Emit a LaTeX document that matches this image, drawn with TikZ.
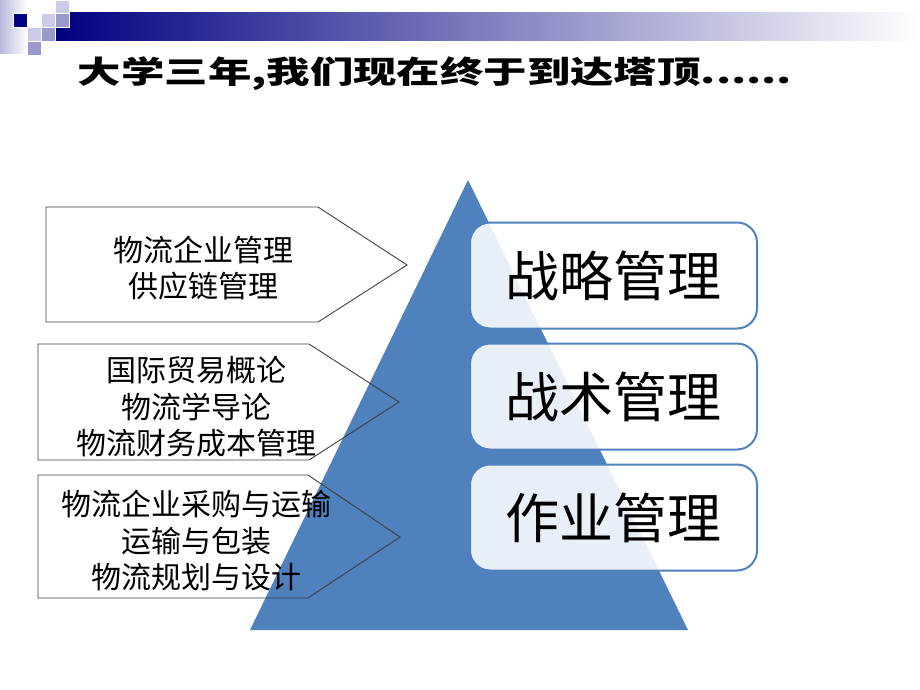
\documentclass[tikz,border=0pt]{standalone}
\usepackage{fontspec}
\setmainfont{Noto Sans CJK SC}
\usetikzlibrary{positioning}

\definecolor{navy}{HTML}{000080}
\definecolor{lightsq}{HTML}{CCCCE6}
\definecolor{midsq}{HTML}{9999CC}
\definecolor{pyramid}{HTML}{4F81BD}

\tikzset{
  sq/.style={draw=white, line width=0.8pt},
  tip/.style={draw=black!75, line width=0.9pt},
  level/.style={draw=pyramid, line width=2pt, fill=white, fill opacity=0.88,
    text opacity=1, rounded corners=20pt, minimum width=287pt,
    minimum height=106pt, font=\fontsize{54}{60}\selectfont},
  course/.style={align=center, font=\fontsize{30}{36.5}\selectfont}
}

\begin{document}
\begin{tikzpicture}[x=1pt,y=-1pt]
  \useasboundingbox (0,0) rectangle (920,690);

  % header bar and squares
  \shade[left color=lightsq!90!navy, right color=white] (0,0) rectangle (27,54);
  \shade[left color=navy, right color=white] (55,13) rectangle (920,41);
  \filldraw[sq, fill=navy] (13,13) rectangle (27,27);
  \filldraw[sq, fill=lightsq] (55,0) rectangle (69,13);
  \filldraw[sq, fill=lightsq] (41,13) rectangle (55,27);
  \filldraw[sq, fill=midsq] (55,13) rectangle (69,27);
  \filldraw[sq, fill=lightsq] (27,27) rectangle (41,41);
  \filldraw[sq, fill=midsq] (41,27) rectangle (55,41);
  \filldraw[sq, fill=midsq] (27,41) rectangle (41,55);

  \node[anchor=west, xscale=1.4, transform shape,
    font=\fontsize{31}{31}\selectfont\bfseries] (title) at (73,74)
    {大学三年,我们现在终于到达塔顶......};

  % pyramid
  \coordinate (apex) at (468,180);
  \coordinate (baseL) at (250,630);
  \coordinate (baseR) at (688,630);
  \fill[pyramid] (apex) -- (baseR) -- (baseL) -- cycle;

  % course arrows
  \coordinate (A1) at (46,207);
  \coordinate (A2) at (318,207);
  \coordinate (A3) at (407,265);
  \coordinate (A4) at (318,322);
  \coordinate (A5) at (46,322);
  \coordinate (B1) at (38,344);
  \coordinate (B2) at (309,344);
  \coordinate (B3) at (399,402);
  \coordinate (B4) at (309,460);
  \coordinate (B5) at (38,460);
  \coordinate (C1) at (38,475);
  \coordinate (C2) at (308,475);
  \coordinate (C3) at (400,537);
  \coordinate (C4) at (308,598);
  \coordinate (C5) at (38,598);
  \draw[tip] (A1) -- (A2) -- (A3) -- (A4) -- (A5) -- cycle;
  \draw[tip] (B1) -- (B2) -- (B3) -- (B4) -- (B5) -- cycle;
  \draw[tip] (C1) -- (C2) -- (C3) -- (C4) -- (C5) -- cycle;

  \node[course] (upper) at (203,268) {物流企业管理\\供应链管理};
  \node[course] (middle) at (196,407) {国际贸易概论\\物流学导论\\物流财务成本管理};
  \node[course] (lower) at (196,541) {物流企业采购与运输\\运输与包装\\物流规划与设计};

  % management levels
  \node[level] (strategic) at (613.5,275.5) {战略管理};
  \node[level, below=13pt of strategic] (tactical) {战术管理};
  \node[level, below=13pt of tactical] (operational) {作业管理};
\end{tikzpicture}
\end{document}
